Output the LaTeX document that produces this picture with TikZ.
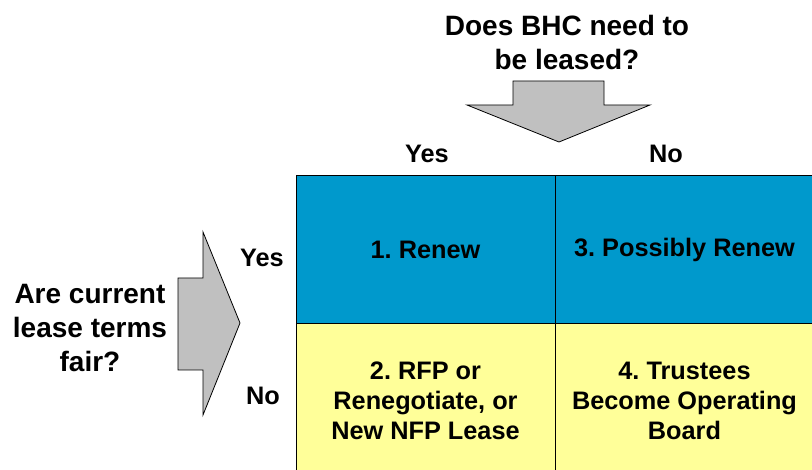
\documentclass[tikz,border=0pt]{standalone}
\usepackage{fontspec}
\setmainfont{Liberation Sans}
\frenchspacing
\usetikzlibrary{positioning}
\definecolor{cellblue}{HTML}{0099CC}
\definecolor{cellyellow}{HTML}{FFFF99}
\definecolor{arrowgray}{HTML}{C0C0C0}

\begin{document}
\begin{tikzpicture}[
    x=1pt, y=-1pt,
    question/.style={font=\fontsize{28}{34}\selectfont\bfseries, align=center, inner sep=0pt, anchor=base},
    answer/.style={font=\fontsize{25.3}{30}\selectfont\bfseries, inner sep=0pt, anchor=base},
    cell/.style={draw, line width=1pt, minimum width=259pt, inner sep=0pt,
      font=\fontsize{25.3}{30}\selectfont\bfseries, align=center},
    bigarrow/.style={draw, line width=0.8pt, fill=arrowgray, line join=miter}
  ]
  \useasboundingbox (0,0) rectangle (812,470);
  \clip (0,0) rectangle (812,470);

  % Questions (base = baseline of the last line)
  \node[question] (leased) at (567,70) {Does BHC need to\\be leased?};
  \node[question] (fair) at (90,372) {Are current\\lease terms\\fair?};

  % Big arrows pointing into the grid
  \draw[bigarrow] (513,81) -- (604,81) -- (604,105) -- (650,105) -- (559,142)
    -- (467,105) -- (513,105) -- cycle;
  \draw[bigarrow] (178,278) -- (203,278) -- (203,232) -- (240,323) -- (203,415)
    -- (203,370) -- (178,370) -- cycle;

  % Column and row answers
  \node[answer] (colyes) at (427,163) {Yes};
  \node[answer] (colno) at (666,163) {No};
  \node[answer] (rowyes) at (262,267) {Yes};
  \node[answer] (rowno) at (263,405) {No};

  % The four outcomes
  \node[cell, minimum height=148pt, fill=cellblue] (renew) at (425.5,250) {1. Renew};
  \node[cell, minimum height=148pt, fill=cellblue] (maybe) at (684.5,250) {3. Possibly Renew};
  \node[cell, minimum height=154pt, fill=cellyellow] (rfp) at (425.5,401) {2. RFP or\\Renegotiate, or\\New NFP Lease};
  \node[cell, minimum height=154pt, fill=cellyellow] (trustees) at (684.5,401) {4. Trustees\\Become Operating\\Board};
\end{tikzpicture}
\end{document}
